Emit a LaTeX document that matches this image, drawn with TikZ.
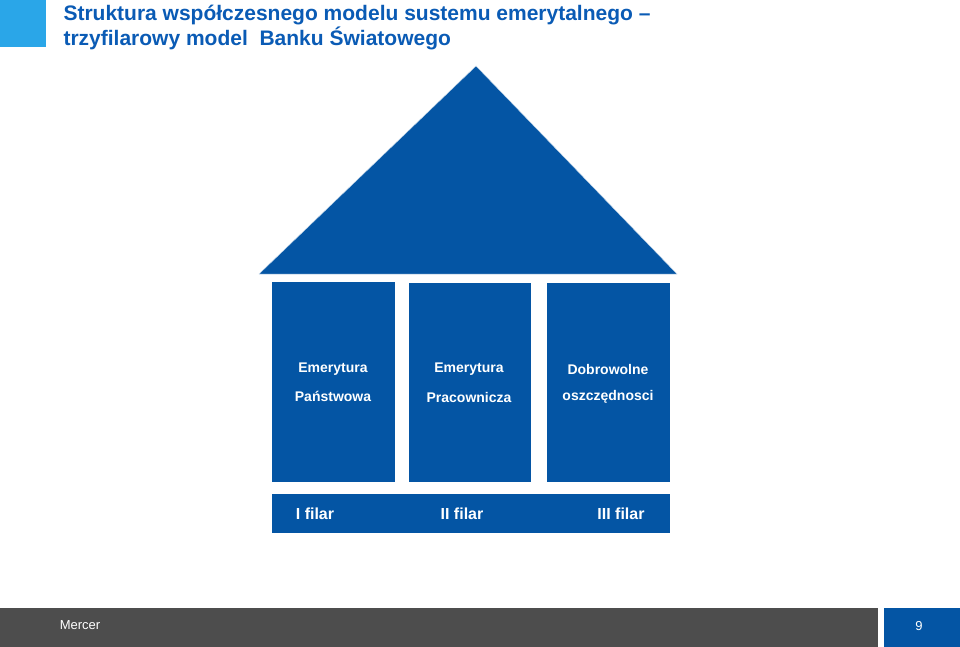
\documentclass[tikz,border=0pt]{standalone}
\usepackage{fontspec}
\setmainfont{Liberation Sans}
\definecolor{hblue}{HTML}{0455A4}
\definecolor{tblue}{HTML}{0A5BB5}
\definecolor{lblue}{HTML}{2AA6E8}
\definecolor{fgray}{HTML}{4D4D4D}
\begin{document}
\begin{tikzpicture}[x=1pt,y=-1pt,
  pillar/.style={fill=hblue,draw=white,line width=1pt},
  ptext/.style={text=white,font=\fontsize{14}{16}\selectfont\bfseries,align=center},
  ftext/.style={text=white,font=\fontsize{16}{18}\selectfont\bfseries}]
\useasboundingbox (0,0) rectangle (960,647);
\fill[white] (0,0) rectangle (960,647);
\fill[lblue] (0,0) rectangle (46,47);
\node[anchor=west,text=tblue,font=\fontsize{21}{25}\selectfont\bfseries,align=left] (title) at (60,28)
 {Struktura współczesnego modelu sustemu emerytalnego --\\trzyfilarowy model\ \ Banku Światowego};
\fill[hblue,draw=white!80!hblue] (476,66) -- (677,274) -- (259,274) -- cycle;
\node[pillar,minimum width=124,minimum height=201] (p1) at (333,381.5) {};
\node[pillar,minimum width=123,minimum height=200] (p2) at (469.5,382) {};
\node[pillar,minimum width=124,minimum height=200] (p3) at (608,382) {};
\node[ptext] (t1a) at (333,369) {Emerytura};
\node[ptext] (t1b) at (333,396) {Państwowa};
\node[ptext] (t2a) at (469,369) {Emerytura};
\node[ptext] (t2b) at (469,397) {Pracownicza};
\node[ptext] (t3a) at (608,369) {Dobrowolne};
\node[ptext] (t3b) at (608,397) {oszczędnosci};
\node[pillar,minimum width=399,minimum height=40] (bar) at (470.5,513) {};
\node[ftext] (f1) at (315,514) {I filar};
\node[ftext] (f2) at (462,514) {II filar};
\node[ftext] (f3) at (621,514) {III filar};
\fill[fgray] (0,608) rectangle (878,647);
\fill[hblue] (884,608) rectangle (960,647);
\node[text=white,font=\fontsize{13}{15}\selectfont] (mercer) at (80,625) {Mercer};
\node[text=white,font=\fontsize{13}{15}\selectfont] (num) at (919,626) {9};
\end{tikzpicture}
\end{document}
